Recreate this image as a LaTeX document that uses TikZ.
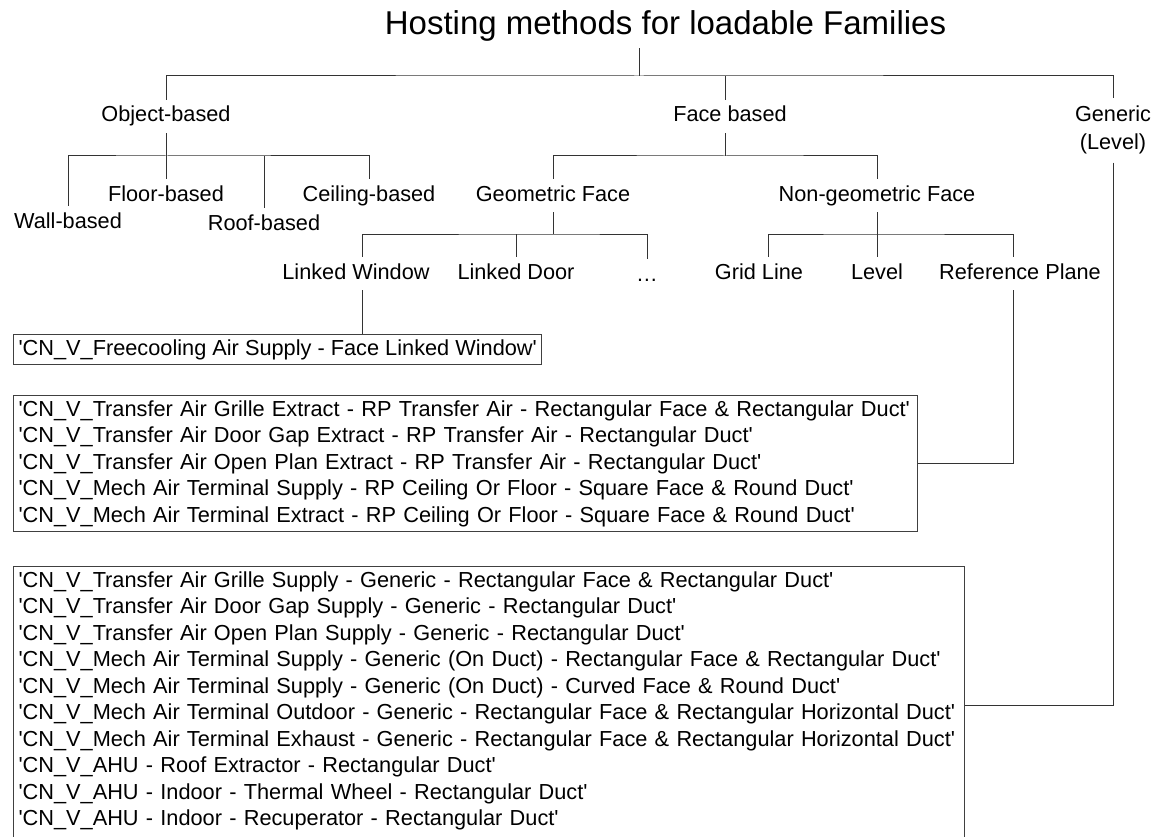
\documentclass[tikz,border=0pt]{standalone}
\usepackage{fontspec}
\setmainfont{Liberation Sans}
\usetikzlibrary{positioning,calc}
\newcommand{\lblfont}{\fontsize{21.7}{28}\selectfont}
\newcommand{\boxfont}{\fontsize{21.75}{26.5}\selectfont}
\newcommand{\q}{\textquotesingle}
\tikzset{lbl/.style={font=\lblfont,inner xsep=2pt,inner ysep=7pt,text height=15pt,text depth=4pt,anchor=base},
  famlist/.style={draw=black!75,line width=1pt,anchor=north west,align=left,inner xsep=5pt,inner ysep=5pt,font=\boxfont},
  wire/.style={draw=black!80,line width=1pt}}

\begin{document}
\begin{tikzpicture}[x=1pt,y=-1pt]
\useasboundingbox (0,0) rectangle (1166,837);
\node[font=\fontsize{33}{36}\selectfont,inner ysep=7pt,text depth=6pt,anchor=base] (title) at (665.5,35) {Hosting methods for loadable Families};
% first level
\node[lbl] (obj) at (166,122) {Object-based};
\node[lbl] (face) at (730,122) {Face based};
\node[font=\lblfont,align=center,anchor=north,inner ysep=8pt] (gen) at (1113,98) {Generic\\(Level)};
% object based
\node[lbl] (wall) at (68,228) {Wall-based};
\node[lbl] (floor) at (166,201) {Floor-based};
\node[lbl] (roof) at (264,230) {Roof-based};
\node[lbl] (ceil) at (369,201) {Ceiling-based};
% face based
\node[lbl] (geo) at (553,201) {Geometric Face};
\node[lbl] (nongeo) at (877,201) {Non-geometric Face};
\node[lbl] (window) at (356,279) {Linked Window};
\node[lbl] (door) at (516,279) {Linked Door};
\node[lbl] (dots) at (647,281) {\dots};
\node[lbl] (grid) at (759,279) {Grid Line};
\node[lbl] (level) at (877,279) {Level};
\node[lbl] (ref) at (1020,279) {Reference Plane};
% families
\node[famlist] (fam1) at (13,334) {\q CN\_V\_Freecooling Air Supply - Face Linked Window\q};
\node[famlist,text width=894pt] (fam2) at (13,395) {%
\q CN\_V\_Transfer Air Grille Extract - RP Transfer Air - Rectangular Face \& Rectangular Duct\q\\
\q CN\_V\_Transfer Air Door Gap Extract - RP Transfer Air - Rectangular Duct\q\\
\q CN\_V\_Transfer Air Open Plan Extract - RP Transfer Air - Rectangular Duct\q\\
\q CN\_V\_Mech Air Terminal Supply - RP Ceiling Or Floor - Square Face \& Round Duct\q\\
\q CN\_V\_Mech Air Terminal Extract - RP Ceiling Or Floor - Square Face \& Round Duct\q};
\node[famlist,text width=941pt] (fam3) at (13,566) {%
\q CN\_V\_Transfer Air Grille Supply - Generic - Rectangular Face \& Rectangular Duct\q\\
\q CN\_V\_Transfer Air Door Gap Supply - Generic - Rectangular Duct\q\\
\q CN\_V\_Transfer Air Open Plan Supply - Generic - Rectangular Duct\q\\
\q CN\_V\_Mech Air Terminal Supply - Generic (On Duct) - Rectangular Face \& Rectangular Duct\q\\
\q CN\_V\_Mech Air Terminal Supply - Generic (On Duct) - Curved Face \& Round Duct\q\\
\q CN\_V\_Mech Air Terminal Outdoor - Generic - Rectangular Face \& Rectangular Horizontal Duct\q\\
\q CN\_V\_Mech Air Terminal Exhaust - Generic - Rectangular Face \& Rectangular Horizontal Duct\q\\
\q CN\_V\_AHU - Roof Extractor - Rectangular Duct\q\\
\q CN\_V\_AHU - Indoor - Thermal Wheel - Rectangular Duct\q\\
\q CN\_V\_AHU - Indoor - Recuperator - Rectangular Duct\q\rule[-14pt]{0pt}{14pt}};
% junctions
\coordinate (j0) at (639,76);
\coordinate (j1) at (166,156);
\coordinate (j2) at (725,156);
\coordinate (j3) at (553,234);
\coordinate (j4) at (877,234);
% connectors
\draw[wire] (j0 |- title.south) -- (j0);
\draw[wire] (obj.north) |- (j0) -| (gen.north);
\draw[wire] ([xshift=-5pt]face.north) -- ([xshift=-5pt]face.north |- j0);
\draw[wire] (obj.south) -- (floor.north);
\draw[wire] (wall.north) |- (j1) -| (ceil.north);
\draw[wire] (roof.north) -- (roof.north |- j1);
\draw[wire] ([xshift=-5pt]face.south) -- (j2);
\draw[wire] (geo.north) |- (j2) -| (nongeo.north);
\draw[wire] (geo.south) -- (j3);
\draw[wire] ([xshift=6pt]window.north) |- (j3) -| (dots.north);
\draw[wire] (door.north) -- (door.north |- j3);
\draw[wire] (nongeo.south) -- (level.north);
\draw[wire] ([xshift=9pt]grid.north) |- (j4) -| ([xshift=-7pt]ref.north);
\draw[wire] ([xshift=6pt]window.south) -- ([xshift=6pt]window.south |- fam1.north);
\draw[wire] ([xshift=-7pt]ref.south) |- (fam2.east);
\draw[wire] (gen.south) |- (fam3.east);
\end{tikzpicture}
\end{document}
